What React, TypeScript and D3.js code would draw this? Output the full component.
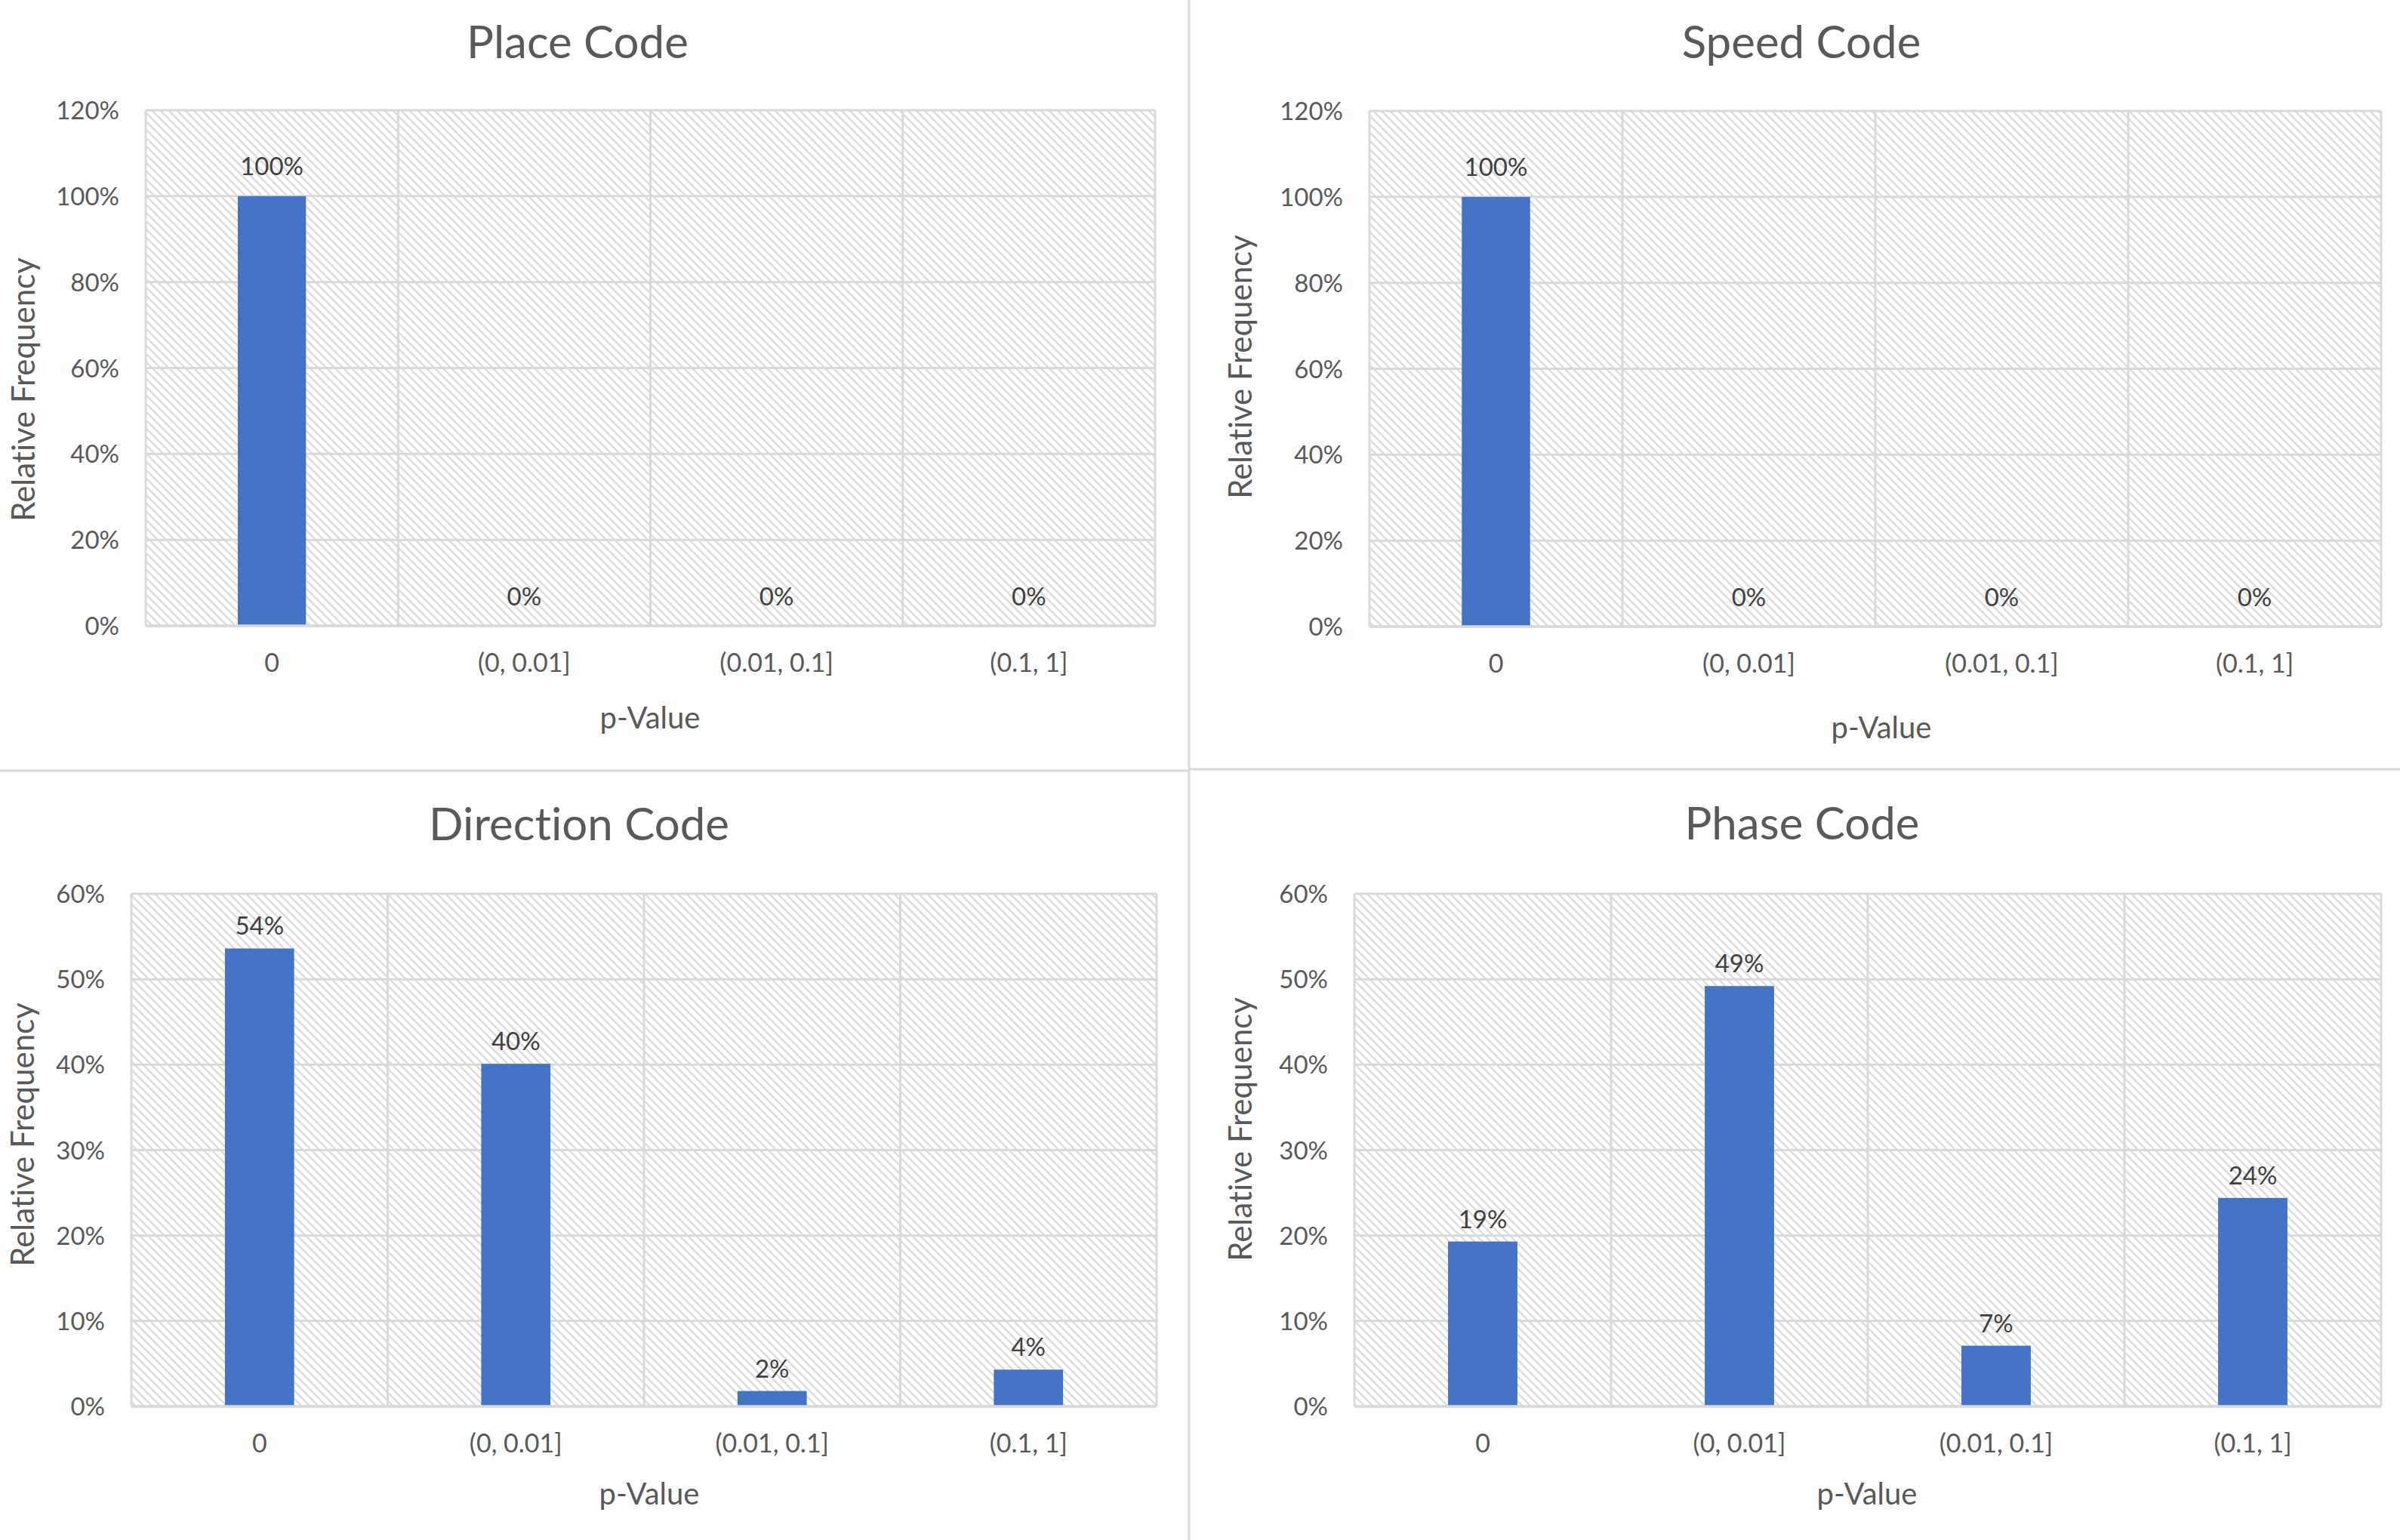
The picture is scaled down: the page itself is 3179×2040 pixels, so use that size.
import React, { useEffect } from 'react';
import { scaleBand, scaleLinear, format } from 'd3';

// p-value bins shared by all four histograms
const categories = ['0', '(0, 0.01]', '(0.01, 0.1]', '(0.1, 1]'];

// relative frequency per bin
const placeValues = [1.0, 0, 0, 0];
const speedValues = [1.0, 0, 0, 0];
const directionValues = [0.536, 0.401, 0.018, 0.043];
const phaseValues = [0.193, 0.492, 0.071, 0.244];

const titles = ['Place Code', 'Speed Code', 'Direction Code', 'Phase Code'];
const yMaxes = [1.2, 1.2, 0.6, 0.6];
const xAxisTitle = 'p-Value';
const yAxisTitle = 'Relative Frequency';

const W = 3179;
const H = 2040;
const FONT = "Lato, 'Open Sans', sans-serif";
const GRID = '#d9d9d9';
const BAR = '#4472c4';
const pct = format('.0%');
const noLig = { fontVariantLigatures: 'none' } as React.CSSProperties;

const layout = [
  { l: 193, r: 1530, t: 146, b: 829, titleX: 765, titleY: 77, xtX: 861, xtY: 965, ytX: 46, ytY: 516, lab: 28 },
  { l: 1814, r: 3154, t: 147, b: 830, titleX: 2386, titleY: 77, xtX: 2492, xtY: 978, ytX: 1658, ytY: 486, lab: 28 },
  { l: 174, r: 1532, t: 1184, b: 1863, titleX: 767, titleY: 1113, xtX: 860, xtY: 1993, ytX: 45, ytY: 1503, lab: 18 },
  { l: 1794, r: 3154, t: 1184, b: 1863, titleX: 2387, titleY: 1112, xtX: 2473, xtY: 1993, ytX: 1658, ytY: 1496, lab: 18 },
];

const seriesList = [placeValues, speedValues, directionValues, phaseValues];

const Panel: React.FC<{ idx: number }> = ({ idx }) => {
  const p = layout[idx];
  const values = seriesList[idx];
  const x = scaleBand<string>().domain(categories).range([p.l, p.r]).padding(0);
  const y = scaleLinear().domain([0, yMaxes[idx]]).range([p.b, p.t]);
  const ticks = y.ticks(6);
  const bw = x.bandwidth() * 0.27;

  return (
    <g style={noLig}>
      <text x={p.titleX} y={p.titleY} textAnchor="middle" fontSize={60} fill="#595959" fontFamily={FONT}>
        {titles[idx]}
      </text>
      <rect x={p.l} y={p.t} width={p.r - p.l} height={p.b - p.t} fill="url(#hatch)" />
      {ticks.map((t) => (
        <line key={'g' + t} x1={p.l} x2={p.r} y1={y(t)} y2={y(t)} stroke={GRID} strokeWidth={3} />
      ))}
      {categories.map((c) => (
        <line key={'v' + c} x1={x(c)!} x2={x(c)!} y1={p.t} y2={p.b} stroke={GRID} strokeWidth={3} />
      ))}
      <line x1={p.r} x2={p.r} y1={p.t} y2={p.b} stroke={GRID} strokeWidth={3} />
      {ticks.map((t) => (
        <text key={'t' + t} x={p.l - 35} y={y(t) + 12} textAnchor="end" fontSize={33} fill="#595959" fontFamily={FONT}>
          {pct(t)}
        </text>
      ))}
      {values.map((v, i) => {
        const cx = x(categories[i])! + x.bandwidth() / 2;
        return (
          <g key={'b' + i}>
            <rect x={cx - bw / 2} y={y(v)} width={bw} height={p.b - y(v)} fill={BAR} />
            <text x={cx} y={y(v) - (v === 0 ? 27 : p.lab)} textAnchor="middle" fontSize={33} fill="#404040" fontFamily={FONT}>
              {pct(v)}
            </text>
          </g>
        );
      })}
      <line x1={p.l} x2={p.r} y1={p.b} y2={p.b} stroke={GRID} strokeWidth={3.5} />
      {categories.map((c) => (
        <text key={'c' + c} x={x(c)! + x.bandwidth() / 2} y={p.b + 61} textAnchor="middle" fontSize={34} fill="#595959" fontFamily={FONT}>
          {c}
        </text>
      ))}
      <text x={p.xtX} y={p.xtY} textAnchor="middle" fontSize={40} fill="#595959" fontFamily={FONT}>
        {xAxisTitle}
      </text>
      <text transform={`translate(${p.ytX},${p.ytY}) rotate(-90)`} textAnchor="middle" fontSize={42} fill="#595959" fontFamily={FONT}>
        {yAxisTitle}
      </text>
    </g>
  );
};

export default function App() {
  useEffect(() => {
    document.body.style.margin = '0';
    document.body.style.overflow = 'hidden';
  }, []);

  return (
    <svg width={W} height={H} viewBox={`0 0 ${W} ${H}`} style={{ display: 'block', background: '#fff' }}>
      <defs>
        <pattern id="hatch" patternUnits="userSpaceOnUse" width={11} height={11}>
          <rect width={11} height={11} fill="#fff" />
          <path d="M0,0 L11,11 M-3,8 L3,14 M8,-3 L14,3" stroke="#dcdcdc" strokeWidth={2.4} />
        </pattern>
      </defs>
      <rect width={W} height={H} fill="#fff" />
      {layout.map((_, i) => (
        <Panel key={i} idx={i} />
      ))}
      <line x1={1575} x2={1575} y1={0} y2={H} stroke={GRID} strokeWidth={3} />
      <line x1={0} x2={1575} y1={1021} y2={1021} stroke={GRID} strokeWidth={3} />
      <line x1={1575} x2={W} y1={1019} y2={1019} stroke={GRID} strokeWidth={3} />
    </svg>
  );
}
